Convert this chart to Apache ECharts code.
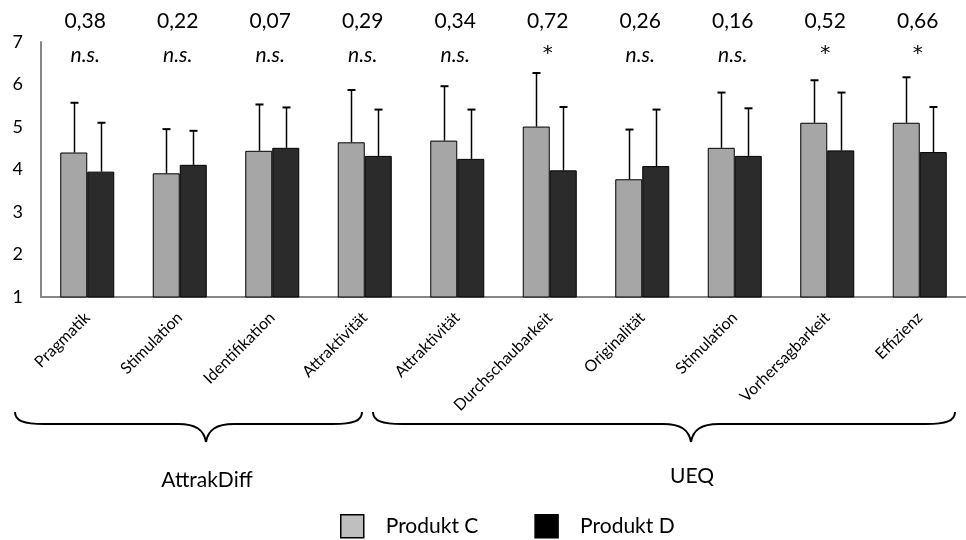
<!DOCTYPE html>
<html>
<head>
<meta charset="utf-8">
<script src="https://cdn.jsdelivr.net/npm/echarts@6/dist/echarts.min.js"></script>
<style>html,body{margin:0;padding:0;background:#fff;}#c{width:966px;height:540px;}</style>
</head>
<body>
<div id="c"></div>
<script>
const categories = ['Pragmatik','Stimulation','Identifikation','Attraktivität','Attraktivität','Durchschaubarkeit','Originalität','Stimulation','Vorhersagbarkeit','Effizienz'];
const meanC = [4.40, 3.91, 4.44, 4.64, 4.68, 5.01, 3.77, 4.51, 5.10, 5.10];
const meanD = [3.95, 4.11, 4.51, 4.32, 4.25, 3.98, 4.08, 4.32, 4.45, 4.41];
const sdC = [1.17, 1.04, 1.09, 1.23, 1.28, 1.26, 1.17, 1.30, 1.00, 1.07];
const sdD = [1.15, 0.80, 0.95, 1.09, 1.16, 1.49, 1.33, 1.12, 1.36, 1.06];
const pValues = ['0,38','0,22','0,07','0,29','0,34','0,72','0,26','0,16','0,52','0,66'];
const signif = ['n.s.','n.s.','n.s.','n.s.','n.s.','*','n.s.','n.s.','*','*'];
const yTicks = [1, 2, 3, 4, 5, 6, 7];
const groups = ['AttrakDiff', 'UEQ'];

const FONT = 'Lato, "Open Sans", sans-serif';
const BAR_W = 27;

const chart = echarts.init(document.getElementById('c'), null, {renderer: 'canvas'});

function errRender(offset) {
  return function (params, api) {
    const i = api.value(0);
    const m = api.value(1);
    const s = api.value(2);
    const p0 = api.coord([i, m]);
    const p1 = api.coord([i, m + s]);
    const x = Math.round(p0[0] + offset) + 0.5;
    return {
      type: 'group',
      children: [
        {type: 'line', shape: {x1: x, y1: p0[1], x2: x, y2: p1[1]}, style: {stroke: '#000', lineWidth: 1.5}},
        {type: 'line', shape: {x1: x - 4, y1: p1[1], x2: x + 4, y2: p1[1]}, style: {stroke: '#000', lineWidth: 2}}
      ]
    };
  };
}

// curly brace decoration: left x, tip x, right x
function brace(xl, xt, xr) {
  const yEnd = 412, yMid = 424, yTip = 442;
  const st = {fill: 'none', stroke: '#000', lineWidth: 2};
  const els = [];
  const bz = (x1, y1, cx1, cy1, cx2, cy2, x2, y2) => els.push({type: 'bezierCurve', silent: true,
    shape: {x1: x1, y1: y1, cpx1: cx1, cpy1: cy1, cpx2: cx2, cpy2: cy2, x2: x2, y2: y2}, style: st});
  const ln = (x1, y1, x2, y2) => els.push({type: 'line', silent: true, shape: {x1: x1, y1: y1, x2: x2, y2: y2}, style: st});
  bz(xl, yEnd, xl, yEnd + 9, xl + 9, yMid, xl + 29, yMid);
  ln(xl + 29, yMid, xt - 28, yMid);
  bz(xt - 28, yMid, xt - 10, yMid, xt - 2, yMid + 6, xt, yTip);
  bz(xt, yTip, xt + 2, yMid + 6, xt + 10, yMid, xt + 28, yMid);
  ln(xt + 28, yMid, xr - 29, yMid);
  bz(xr - 29, yMid, xr - 9, yMid, xr, yEnd + 9, xr, yEnd);
  return els;
}

const option = {
  animation: false,
  backgroundColor: '#fff',
  grid: {left: 41, right: -10, top: 42, bottom: 243, containLabel: false},
  legend: {
    left: 340, top: 514, padding: 0,
    itemWidth: 23, itemHeight: 23, itemGap: 56,
    icon: 'rect',
    textStyle: {fontFamily: FONT, fontSize: 21, color: '#000', padding: [0, 0, 0, 17]},
    data: [
      {name: 'Produkt C', itemStyle: {color: '#bfbfbf', borderColor: '#000', borderWidth: 1.5}},
      {name: 'Produkt D', itemStyle: {color: '#000', borderColor: '#000', borderWidth: 1.5}}
    ]
  },
  xAxis: {
    type: 'category',
    data: categories,
    axisLine: {show: true, lineStyle: {color: '#868686', width: 2}},
    axisTick: {show: false},
    axisLabel: {rotate: 45, fontFamily: FONT, fontSize: 16, color: '#000', margin: 18, interval: 0}
  },
  yAxis: {
    type: 'value',
    min: yTicks[0], max: yTicks[yTicks.length - 1], interval: 1,
    axisLine: {show: true, lineStyle: {color: '#868686', width: 2}},
    axisTick: {show: false},
    splitLine: {show: false},
    axisLabel: {fontFamily: FONT, fontSize: 18, color: '#000', margin: 18}
  },
  series: [
    {
      name: 'Produkt C', type: 'bar', data: meanC, barWidth: BAR_W, barGap: '0%',
      itemStyle: {color: '#a6a6a6', borderColor: '#000', borderWidth: 1}
    },
    {
      name: 'Produkt D', type: 'bar', data: meanD, barWidth: BAR_W, barGap: '0%',
      itemStyle: {color: '#2b2b2b', borderColor: '#000', borderWidth: 1}
    },
    {
      name: 'errC', type: 'custom', z: 5,
      data: meanC.map((m, i) => [i, m, sdC[i]]),
      renderItem: errRender(-BAR_W / 2)
    },
    {
      name: 'errD', type: 'custom', z: 5,
      data: meanD.map((m, i) => [i, m, sdD[i]]),
      renderItem: errRender(BAR_W / 2)
    },
    {
      name: 'annot', type: 'custom', z: 6, clip: false,
      data: categories.map((c, i) => [i, yTicks[yTicks.length - 1]]),
      renderItem: function (params, api) {
        const i = api.value(0);
        const p = api.coord([i, api.value(1)]);
        const sig = signif[params.dataIndex];
        const isStar = sig === '*';
        return {
          type: 'group',
          children: [
            {type: 'text', x: p[0] - 2, y: p[1] - 21, style: {text: pValues[params.dataIndex], fontFamily: FONT, fontSize: 21, fill: '#000', align: 'center', verticalAlign: 'middle'}},
            {type: 'text', x: p[0] - 2, y: p[1] + (isStar ? 12 : 13), style: {text: sig, fontFamily: isStar ? '"DejaVu Sans", sans-serif' : FONT, fontSize: isStar ? 20 : 21, fontStyle: isStar ? 'normal' : 'italic', fill: '#000', align: 'center', verticalAlign: 'middle'}}
          ]
        };
      }
    }
  ],
  graphic: [].concat(
    brace(15, 206, 362),
    brace(373, 691, 955),
    [
      {type: 'text', x: 207, y: 480, style: {text: groups[0], fontFamily: FONT, fontSize: 21, fill: '#000', align: 'center', verticalAlign: 'middle'}},
      {type: 'text', x: 692, y: 476, style: {text: groups[1], fontFamily: FONT, fontSize: 21, fill: '#000', align: 'center', verticalAlign: 'middle'}}
    ]
  )
};
chart.setOption(option);
</script>
</body>
</html>
